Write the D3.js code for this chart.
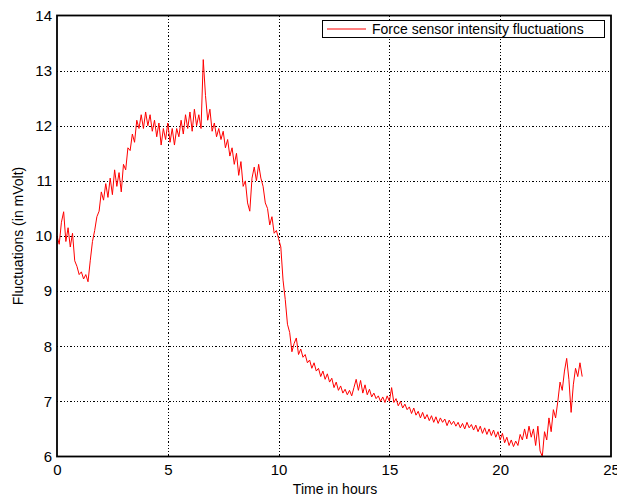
<!DOCTYPE html>
<html><head><meta charset="utf-8">
<script src="https://cdn.jsdelivr.net/npm/d3@7"></script>
<style>body{margin:0;background:#fff;} svg{display:block;} text{font-family:"Liberation Sans",Arial,Helvetica,sans-serif;}</style>
</head><body>
<svg id="chart" width="617" height="497"></svg>
<script>
const xTicks = [0,5,10,15,20,25];
const yTicks = [6,7,8,9,10,11,12,13,14];
const seriesName = "Force sensor intensity fluctuations";
const timeStep = 0.1;
const values = [
10.0,9.85,10.25,10.44,9.9,10.15,9.8,10.05,9.55,9.45,
9.3,9.35,9.22,9.3,9.17,9.55,9.9,10.1,10.35,10.45,
10.8,10.65,10.95,10.7,11.05,10.75,11.2,10.9,11.15,10.8,
11.3,11.2,11.6,11.55,11.85,11.7,12.1,11.95,12.2,11.95,
12.25,12.0,12.2,11.9,12.1,11.8,12.05,11.65,11.95,11.75,
12.05,11.7,11.95,11.65,11.95,11.8,12.1,11.85,12.2,11.95,
12.25,11.9,12.3,12.0,12.2,11.95,13.2,12.55,12.1,12.3,
11.9,12.05,11.8,11.95,11.75,11.9,11.6,11.75,11.45,11.6,
11.3,11.5,11.1,11.35,10.9,11.0,10.6,10.45,11.05,11.25,
11.0,11.3,11.05,10.9,10.6,10.5,10.2,10.35,10.05,10.1,
9.95,9.8,9.2,8.85,8.4,8.25,7.9,8.05,8.15,7.85,
7.95,7.8,7.85,7.7,7.75,7.6,7.7,7.55,7.6,7.45,
7.55,7.4,7.5,7.35,7.42,7.25,7.35,7.2,7.28,7.15,
7.22,7.12,7.2,7.1,7.25,7.4,7.2,7.38,7.15,7.3,
7.12,7.22,7.08,7.15,7.05,7.1,7.0,7.08,6.98,7.1,
7.0,7.25,6.98,7.05,6.92,7.0,6.88,6.95,6.85,6.9,
6.78,6.88,6.75,6.82,6.7,6.8,6.68,6.76,6.65,6.74,
6.62,6.72,6.6,6.7,6.62,6.68,6.56,6.66,6.58,6.64,
6.55,6.62,6.52,6.6,6.5,6.62,6.52,6.58,6.48,6.57,
6.45,6.55,6.42,6.52,6.4,6.5,6.38,6.48,6.35,6.45,
6.3,6.42,6.25,6.35,6.2,6.3,6.18,6.28,6.2,6.4,
6.3,6.5,6.32,6.55,6.35,6.5,6.2,6.55,6.1,6.0,
6.45,6.3,6.7,6.45,6.85,6.7,7.0,7.35,7.2,7.55,
7.78,7.4,6.8,7.3,7.6,7.45,7.7,7.45
];
const data = values.map((v,i)=>({t:i*timeStep, v:v}));

const svg = d3.select("#chart");
const L=57, R=611, T=15.5, B=456.5;
const x = d3.scaleLinear().domain([0,25]).range([L,R]);
const y = d3.scaleLinear().domain([6,14]).range([B,T]);
const px = v => Math.round(v)+0.5;

// grid
const g = svg.append("g").attr("shape-rendering","crispEdges");
g.selectAll(".vg").data(xTicks.slice(1,-1)).enter().append("line")
 .attr("x1",d=>px(x(d))).attr("x2",d=>px(x(d))).attr("y1",T).attr("y2",B)
 .attr("stroke","#000").attr("stroke-width",1.3).attr("stroke-dasharray","1.3,2");
g.selectAll(".hg").data(yTicks.slice(1,-1)).enter().append("line")
 .attr("x1",L).attr("x2",R).attr("y1",d=>px(y(d))).attr("y2",d=>px(y(d)))
 .attr("stroke","#000").attr("stroke-width",1.3).attr("stroke-dasharray","1.3,2");

// line
const line = d3.line().x(d=>x(d.t)).y(d=>y(d.v));
svg.append("path").datum(data).attr("d",line)
 .attr("fill","none").attr("stroke","#ff0000").attr("stroke-width",1).attr("stroke-linejoin","round");

// axes
const xAxis = d3.axisBottom(x).tickValues(xTicks).tickSize(0).tickPadding(8);
const yAxis = d3.axisLeft(y).tickValues(yTicks).tickSize(0).tickPadding(5);
const gx = svg.append("g").attr("transform",`translate(0,${B})`).call(xAxis);
const gy = svg.append("g").attr("transform",`translate(${L},0)`).call(yAxis);
[gx,gy].forEach(a=>{a.select(".domain").remove(); a.selectAll("text").attr("font-size",15).attr("fill","#000").attr("font-family","Liberation Sans, Arial, sans-serif");});

// box
svg.append("rect").attr("x",L).attr("y",T).attr("width",R-L).attr("height",B-T)
 .attr("fill","none").attr("stroke","#000").attr("stroke-width",1.8);

// labels
svg.append("text").attr("x",335).attr("y",494).attr("text-anchor","middle")
 .attr("font-size",14).text("Time in hours");
svg.append("text").attr("transform",`translate(23,${(T+B)/2}) rotate(-90)`).attr("text-anchor","middle")
 .attr("font-size",14).text("Fluctuations (in mVolt)");

// legend
const lg = svg.append("g");
lg.append("rect").attr("x",322.5).attr("y",20.5).attr("width",282).attr("height",17)
 .attr("fill","#fff").attr("stroke","#000").attr("stroke-width",1);
lg.append("line").attr("x1",327).attr("x2",366).attr("y1",29).attr("y2",29)
 .attr("stroke","#ff0000").attr("stroke-width",1.2);
lg.append("text").attr("x",372).attr("y",34).attr("font-size",14).text(seriesName);
</script>
</body></html>
